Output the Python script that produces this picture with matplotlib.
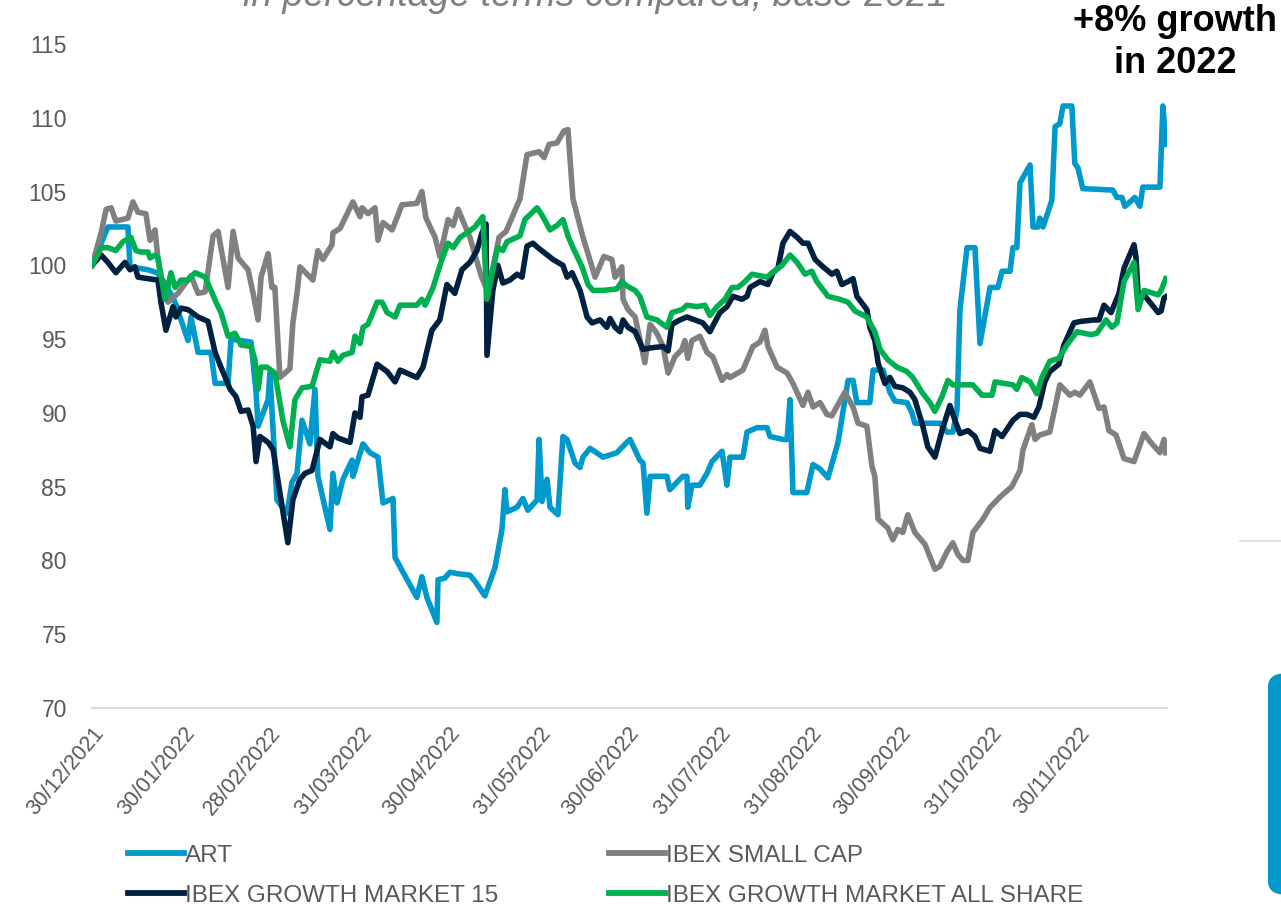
import numpy as np
import matplotlib
matplotlib.use("Agg")
import matplotlib.pyplot as plt
import matplotlib.dates as mdates
from matplotlib.patches import FancyBboxPatch
from matplotlib.lines import Line2D

plt.rcParams['font.family'] = ['Liberation Sans', 'DejaVu Sans']

# days counted from 30/12/2021, values base 100
ART_DAYS = [0, 5.4, 12.2, 12.9, 19.0, 22.1, 25.1, 28.2, 32.6, 33.6, 36.0, 40.4, 41.8, 46.2, 47.2, 54.0,
            55.7, 56.4, 59.8, 60.4, 62.8, 66.2, 67.9, 69.6, 71.3, 74.0, 75.7, 76.7, 80.8, 81.8, 83.2,
            85.2, 88.3, 88.6, 92.0, 94.4, 97.1, 98.8, 102.2, 102.9, 105.6, 110.3, 112.0, 113.7, 117.1,
            117.5, 119.8, 121.5, 124.3, 128.3, 130.0, 133.4, 136.8, 139.2, 140.2, 140.9, 144.3, 146.3,
            148.0, 151.1, 151.8, 152.8, 154.5, 155.5, 158.2, 159.9, 161.3, 164.0, 165.7, 166.7, 169.1,
            173.5, 178.2, 181.6, 182.7, 186.0, 187.1, 188.4, 189.5, 195.2, 196.2, 200.6, 202.0, 202.3,
            203.7, 206.4, 208.8, 210.5, 213.9, 215.6, 216.6, 221.0, 222.4, 225.8, 229.2, 230.2, 234.6,
            236.0, 237.0, 238.0, 242.7, 244.8, 247.2, 249.9, 251.6, 253.3, 256.7, 258.4, 259.7, 264.1,
            265.2, 268.6, 270.9, 272.6, 276.7, 278.4, 279.4, 287.9, 290.3, 292.3, 293.7, 294.7, 297.1,
            299.8, 301.5, 304.9, 307.6, 309.0, 311.7, 312.7, 314.0, 315.1, 318.5, 319.5, 321.2, 321.8,
            322.9, 325.9, 327.0, 328.6, 329.7, 332.7, 333.7, 334.8, 336.4, 346.6, 348.0, 349.7, 350.7,
            354.1, 355.8, 356.8, 362.6, 363.6, 364.6]
ART = [100.0, 102.6, 102.6, 99.9, 99.7, 99.5, 98.7, 97.5, 94.9, 96.5, 94.1, 94.1, 92.0, 92.0, 95.0, 94.8,
       91.4, 89.1, 90.9, 92.7, 84.1, 83.2, 85.3, 85.9, 89.5, 87.9, 91.6, 85.7, 82.1, 85.9, 83.9,
       85.5, 86.8, 85.7, 87.9, 87.3, 87.0, 83.9, 84.2, 80.2, 79.2, 77.5, 78.9, 77.5, 75.8,
       78.7, 78.8, 79.2, 79.1, 79.0, 78.6, 77.6, 79.5, 82.1, 84.8, 83.3, 83.6, 84.2,
       83.4, 84.1, 88.2, 84.0, 85.5, 83.6, 83.1, 88.4, 88.2, 86.6, 86.3, 87.0, 87.6,
       87.0, 87.3, 88.0, 88.2, 86.8, 86.6, 83.2, 85.7, 85.7, 84.8, 85.7, 85.7, 83.6,
       85.1, 85.1, 85.9, 86.7, 87.4, 85.1, 87.0, 87.0, 88.7, 89.0, 89.0, 88.4, 88.2,
       88.2, 90.9, 84.6, 84.6, 86.5, 86.2, 85.6, 86.8, 88.0, 92.2, 92.2, 90.7, 90.7,
       92.9, 92.9, 91.4, 90.8, 90.7, 90.0, 89.3, 89.3, 88.7, 88.7, 90.2, 97.0, 101.2,
       101.2, 94.7, 98.5, 98.5, 99.6, 99.6, 101.2, 101.2, 105.6, 106.8, 102.6, 102.6, 103.2,
       102.6, 104.4, 109.4, 109.6, 110.8, 110.8, 106.9, 106.6, 105.2, 105.1, 104.6, 104.6, 104.0,
       104.6, 104.0, 105.3, 105.3, 110.8, 108.2]

SMALL_DAYS = [0, 3.1, 4.8, 6.5, 8.1, 12.2, 13.9, 15.6, 18.3, 19.7, 21.4, 22.4, 24.1, 25.8, 29.2, 33.6,
              36.0, 38.4, 41.1, 42.8, 46.2, 47.9, 49.6, 53.0, 54.7, 56.4, 57.4, 59.8, 61.1, 62.1, 63.8,
              67.2, 68.2, 69.6, 70.6, 75.0, 76.7, 78.4, 81.5, 81.8, 84.2, 85.9, 88.6, 91.0, 91.7, 93.7,
              96.1, 97.1, 98.8, 101.9, 103.9, 105.2, 110.3, 112.0, 113.4, 116.5, 118.1, 120.9, 122.6,
              124.3, 128.3, 132.1, 133.8, 135.8, 138.2, 140.6, 145.3, 147.7, 151.8, 153.5, 155.2, 157.9,
              160.2, 161.6, 163.3, 166.7, 168.4, 170.8, 173.8, 176.5, 177.6, 179.9, 180.3, 182.0, 184.4,
              187.7, 189.5, 191.8, 193.9, 195.6, 197.9, 200.3, 201.3, 202.3, 203.7, 206.4, 208.8, 210.8,
              213.9, 215.6, 216.6, 221.0, 224.4, 226.8, 228.5, 229.5, 232.6, 236.0, 238.0, 241.4, 243.1,
              244.8, 247.2, 249.5, 251.2, 255.6, 258.4, 260.1, 263.1, 264.8, 265.8, 266.9, 270.2, 271.9,
              273.6, 275.3, 277.0, 279.4, 282.8, 285.2, 286.2, 287.9, 290.3, 292.3, 294.0, 295.7, 297.4,
              299.1, 302.5, 304.9, 308.3, 312.3, 315.1, 316.1, 319.1, 320.2, 321.8, 325.2, 328.6, 332.0,
              333.7, 335.4, 338.8, 341.9, 343.6, 345.3, 347.7, 350.4, 353.8, 357.2, 359.5, 362.6, 364.0,
              364.6]
SMALL_CAP = [100.0, 102.2, 103.8, 103.9, 103.0, 103.2, 104.3, 103.6, 103.5, 101.7, 102.4, 100.4, 98.5, 97.5,
             98.1, 99.3, 98.1, 98.2, 102.0, 102.3, 98.5, 102.3, 100.5, 99.7, 98.1, 96.3, 99.2, 100.8, 98.5,
             98.5, 92.4, 93.0, 96.1, 98.1, 99.9, 99.0, 101.0, 100.4, 101.4, 102.2, 102.5, 103.2, 104.3,
             103.3, 103.9, 103.5, 103.9, 101.7, 102.9, 102.4, 103.4, 104.1, 104.2, 105.0, 103.2, 101.9,
             100.6, 103.1, 102.7, 103.8, 101.9, 99.3, 98.5, 99.5, 101.9, 102.3, 104.5, 107.5, 107.7,
             107.3, 108.2, 108.3, 109.1, 109.2, 104.5, 101.9, 100.8, 99.2, 100.6, 100.4, 99.2, 99.9,
             97.7, 97.0, 96.5, 93.4, 96.0, 95.4, 94.5, 92.7, 93.8, 94.3, 94.9, 93.7, 94.9, 95.2, 94.1,
             93.8, 92.2, 92.6, 92.4, 92.9, 94.5, 94.8, 95.6, 94.5, 93.1, 92.7, 92.0, 90.5, 91.4, 90.4,
             90.7, 89.9, 89.8, 91.4, 90.4, 89.3, 89.1, 86.4, 85.7, 82.8, 82.2, 81.4, 82.1, 81.9, 83.1,
             81.9, 81.1, 79.9, 79.4, 79.6, 80.6, 81.2, 80.4, 80.0, 80.0, 81.9, 82.8, 83.6, 84.3, 85.0,
             86.1, 87.5, 89.2, 88.2, 88.5, 88.7, 91.9, 91.2, 91.4, 91.2, 92.1, 90.3, 90.4, 88.8, 88.5,
             86.9, 86.7, 88.6, 88.0, 87.3, 88.2, 87.3]

GM15_DAYS = [0, 3.1, 5.4, 8.1, 11.2, 12.9, 14.6, 15.6, 19.0, 22.4, 23.4, 25.1, 27.5, 28.5, 30.2, 32.6,
             36.0, 39.4, 41.8, 43.8, 46.9, 48.9, 50.6, 53.0, 54.7, 55.7, 57.0, 59.8, 61.5, 63.8, 66.5,
             68.2, 70.6, 72.3, 74.7, 77.4, 80.8, 81.8, 83.5, 87.6, 89.3, 91.0, 91.7, 93.7, 96.8, 100.2,
             102.9, 104.6, 110.3, 112.4, 115.4, 118.1, 120.5, 123.2, 125.6, 128.3, 130.7, 132.4, 133.8,
             134.1, 136.1, 137.8, 139.5, 141.9, 144.3, 146.0, 147.7, 149.7, 151.4, 156.5, 159.9, 161.3,
             163.0, 165.7, 168.1, 169.8, 172.5, 174.8, 175.9, 177.6, 179.3, 180.3, 182.0, 184.4, 187.1,
             189.5, 193.9, 195.6, 196.9, 199.6, 202.0, 207.4, 209.8, 210.8, 213.2, 215.6, 217.6, 220.7,
             222.4, 223.4, 226.8, 229.5, 231.2, 232.9, 234.6, 237.0, 239.4, 241.4, 243.1, 245.5, 248.2,
             251.2, 252.9, 254.6, 256.7, 258.4, 259.7, 263.1, 264.1, 265.8, 266.9, 269.2, 270.9, 272.6,
             275.3, 277.7, 279.4, 282.1, 283.8, 286.2, 288.6, 291.3, 293.0, 294.7, 297.4, 299.8, 301.5,
             304.9, 306.6, 309.0, 312.7, 315.1, 317.4, 319.8, 321.5, 323.5, 325.2, 328.3, 330.0, 333.4,
             335.7, 340.2, 341.9, 343.6, 346.0, 348.7, 350.4, 353.8, 354.5, 355.2, 357.2, 362.0, 363.0,
             364.0, 364.9]
GM15 = [100.0, 100.7, 100.2, 99.5, 100.2, 99.7, 99.9, 99.2, 99.1, 99.0, 97.5, 95.6, 97.2, 96.5, 97.1, 97.0,
        96.5, 96.2, 94.1, 93.1, 91.6, 91.1, 90.1, 90.2, 89.1, 86.7, 88.4, 88.0, 87.5, 84.6, 81.2,
        84.1, 85.5, 85.9, 86.1, 88.2, 87.7, 88.6, 88.3, 88.0, 90.0, 89.7, 91.1, 91.2, 93.3, 92.8,
        92.1, 92.9, 92.4, 93.1, 95.6, 96.3, 98.7, 98.1, 99.7, 100.2, 101.0, 102.2, 102.8,
        93.9, 98.3, 100.0, 98.8, 99.0, 99.4, 99.2, 101.3, 101.5, 101.2, 100.4, 100.0, 99.2,
        99.5, 98.3, 96.5, 96.1, 96.3, 95.8, 96.4, 95.8, 95.5, 96.3, 95.8, 95.5, 94.3,
        94.4, 94.5, 94.2, 96.0, 96.3, 96.5, 96.1, 95.5, 95.9, 96.8, 97.2, 97.9, 97.7,
        97.9, 98.5, 98.9, 98.7, 99.5, 99.8, 101.5, 102.3, 101.9, 101.5, 101.5, 100.4, 99.9,
        99.4, 99.6, 98.7, 98.9, 99.1, 97.9, 97.0, 95.8, 94.9, 93.4, 92.0, 92.4, 91.8,
        91.7, 91.4, 90.9, 89.1, 87.7, 87.0, 88.8, 90.5, 89.5, 88.6, 88.8, 88.4, 87.6,
        87.4, 88.8, 88.4, 89.5, 89.9, 89.9, 89.7, 90.4, 92.1, 92.8, 93.3, 94.6, 96.1,
        96.2, 96.3, 96.3, 97.3, 96.8, 98.1, 99.8, 101.4, 100.5, 98.0, 98.0, 96.8, 96.9,
        97.8, 97.9]

ALL_DAYS = [0, 3.1, 5.4, 8.1, 10.5, 13.2, 14.9, 16.6, 19.0, 19.7, 21.4, 22.4, 24.8, 26.8, 28.2, 30.2,
            32.6, 35.0, 38.4, 40.4, 42.1, 43.8, 46.2, 48.5, 50.6, 54.0, 55.3, 56.4, 57.4, 59.4, 62.1,
            64.8, 67.2, 68.9, 71.3, 74.7, 77.4, 80.8, 81.8, 83.5, 85.2, 88.3, 89.3, 91.0, 92.0, 93.7,
            96.8, 98.5, 100.2, 102.9, 104.6, 110.3, 112.0, 113.1, 115.8, 118.8, 120.9, 122.6, 125.0,
            127.3, 130.0, 132.7, 134.1, 136.1, 137.8, 139.5, 140.9, 145.3, 147.0, 151.1, 152.8, 155.5,
            157.9, 159.9, 161.6, 163.3, 166.4, 168.4, 170.1, 173.5, 178.2, 179.9, 181.6, 184.4, 186.0,
            188.4, 191.8, 195.2, 196.9, 200.3, 202.0, 205.4, 208.1, 209.8, 212.2, 214.9, 217.3, 219.3,
            221.7, 224.1, 229.2, 230.9, 234.3, 237.0, 239.4, 242.1, 244.4, 246.1, 249.9, 253.9, 256.7,
            259.1, 263.1, 265.8, 267.6, 270.2, 273.3, 276.7, 278.7, 281.8, 284.5, 286.2, 288.6, 290.6,
            292.3, 299.1, 302.2, 305.6, 306.6, 312.7, 314.0, 315.7, 318.5, 320.8, 322.5, 325.2, 328.3,
            331.0, 334.4, 339.2, 341.2, 344.3, 346.3, 348.0, 350.4, 353.8, 355.2, 357.2, 362.0, 363.0,
            364.6]
ALL_SHARE = [100.0, 101.2, 101.2, 101.0, 101.6, 101.9, 101.0, 100.9, 100.9, 100.5, 100.7, 100.5, 97.7, 99.5,
             98.5, 99.0, 99.0, 99.5, 99.2, 98.3, 97.5, 96.8, 95.2, 95.4, 94.6, 94.5, 93.6, 91.6, 93.1,
             93.1, 92.7, 89.5, 87.7, 90.9, 91.7, 91.8, 93.6, 93.5, 94.1, 93.5, 93.9, 94.1, 95.2, 94.7,
             95.8, 96.0, 97.5, 97.5, 96.8, 96.5, 97.3, 97.3, 97.7, 97.3, 98.5, 100.4, 101.5, 101.2,
             101.9, 102.2, 102.6, 103.3, 97.7, 99.7, 101.2, 101.0, 101.6, 102.0, 103.1, 103.9, 103.4,
             102.4, 102.7, 103.1, 102.0, 101.2, 99.9, 98.7, 98.3, 98.3, 98.4, 98.9, 98.6, 98.3, 97.9,
             96.5, 96.3, 95.8, 96.8, 97.0, 97.3, 97.2, 97.3, 96.6, 97.2, 97.7, 98.5, 98.5,
             98.9, 99.4, 99.2, 99.5, 100.0, 100.7, 100.2, 99.4, 99.6, 98.9, 97.9, 97.7, 97.5,
             96.9, 96.5, 95.5, 94.3, 93.6, 93.1, 92.8, 92.4, 91.4, 90.7, 90.1, 91.1, 92.2,
             91.9, 91.9, 91.2, 91.2, 92.1, 91.9, 91.6, 92.4, 92.1, 91.3, 92.4, 93.5, 93.7,
             94.6, 95.5, 95.3, 95.4, 96.3, 95.8, 96.1, 98.9, 100.2, 97.0, 98.3, 98.0, 98.3,
             99.1]

TICK_DATES = ['2021-12-30', '2022-01-30', '2022-02-28', '2022-03-31', '2022-04-30', '2022-05-31',
              '2022-06-30', '2022-07-31', '2022-08-31', '2022-09-30', '2022-10-31', '2022-11-30']
TICK_LABELS = ['30/12/2021', '30/01/2022', '28/02/2022', '31/03/2022', '30/04/2022', '31/05/2022',
               '30/06/2022', '31/07/2022', '31/08/2022', '30/09/2022', '31/10/2022', '30/11/2022']

SERIES = [
    ('ART', ART_DAYS, ART, '#0099CC'),
    ('IBEX SMALL CAP', SMALL_DAYS, SMALL_CAP, '#808080'),
    ('IBEX GROWTH MARKET 15', GM15_DAYS, GM15, '#002240'),
    ('IBEX GROWTH MARKET ALL SHARE', ALL_DAYS, ALL_SHARE, '#00B050'),
]

base = mdates.date2num(np.datetime64('2021-12-30'))
grey_txt = '#595959'

fig = plt.figure(figsize=(12.81, 9.08), dpi=100)
ax = fig.add_axes([92 / 1281, 200 / 908, 1075 / 1281, 664 / 908])

lines = {}
for name, days, vals, col in SERIES:
    ln, = ax.plot(base + np.array(days), vals, color=col, lw=4, solid_joinstyle='round', label=name)
    lines[name] = ln

ax.set_xlim(base, base + 365)
ax.set_ylim(70, 115)
ax.set_yticks(range(70, 116, 5))
ax.set_xticks(mdates.date2num(np.array(TICK_DATES, dtype='datetime64[D]')))
ax.set_xticklabels(TICK_LABELS, rotation=50, ha='right', va='top', rotation_mode='anchor')

for s in ['top', 'right', 'left']:
    ax.spines[s].set_visible(False)
ax.spines['bottom'].set_color('#D9D9D9')
ax.spines['bottom'].set_linewidth(1.5)
ax.tick_params(axis='y', length=0, pad=18, labelsize=16.5, labelcolor=grey_txt)
ax.tick_params(axis='x', length=0, pad=11, labelsize=15.5, labelcolor=grey_txt)

order = ['ART', 'IBEX GROWTH MARKET 15', 'IBEX SMALL CAP', 'IBEX GROWTH MARKET ALL SHARE']
leg = fig.legend([lines[n] for n in order], order, ncol=2, loc='upper left',
                 bbox_to_anchor=(118 / 1281, 1 - 835 / 908), frameon=False,
                 fontsize=17.5, handlelength=2.3, handletextpad=0.05, columnspacing=4.55,
                 labelspacing=0.75, borderaxespad=0)
for t in leg.get_texts():
    t.set_color(grey_txt)
for h in leg.legend_handles:
    h.set_linewidth(4.2)

# partial title cut at top of the screenshot
fig.text(595 / 1281, 1 - 6 / 908, 'in percentage terms compared, base 2021', ha='center', va='baseline',
         fontsize=27, style='italic', color='#7F7F7F')
fig.text(1175 / 1281, 1 - 31 / 908, '+8% growth', ha='center', va='baseline', fontsize=26,
         fontweight='bold', color='black')
fig.text(1175 / 1281, 1 - 73 / 908, 'in 2022', ha='center', va='baseline', fontsize=26,
         fontweight='bold', color='black')

# decorations at the right edge
fig.add_artist(Line2D([1240 / 1281, 1], [1 - 541 / 908] * 2, color='#D9D9D9', lw=1.2))
fig.add_artist(FancyBboxPatch((1268 / 1281, 1 - 895 / 908), 60 / 1281, 222 / 908,
                              boxstyle='round,pad=0,rounding_size=0.015', fc='#0099CC', ec='none',
                              transform=fig.transFigure))

fig.savefig('out.png', dpi=100)
